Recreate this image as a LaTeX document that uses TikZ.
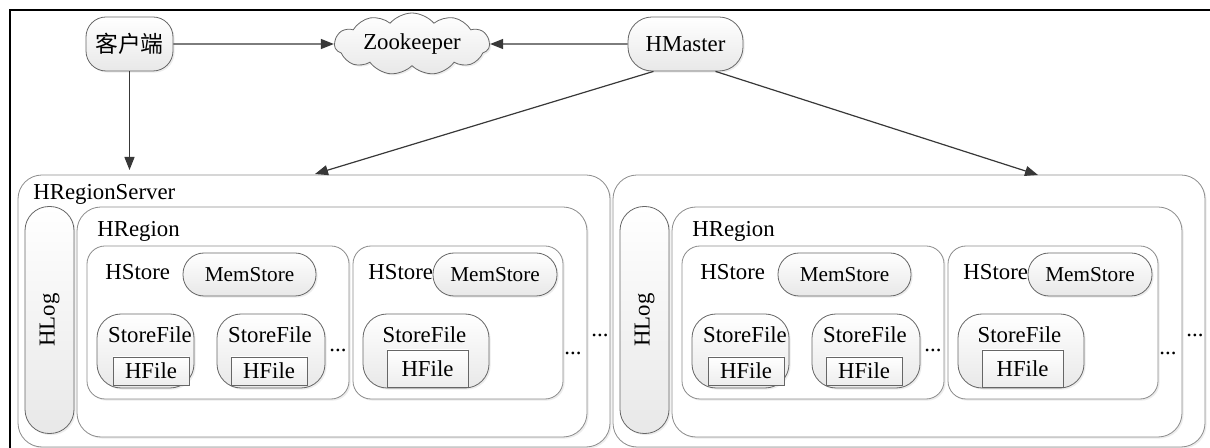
\documentclass[tikz,border=0pt]{standalone}
\usepackage{fontspec}
\setmainfont{Liberation Serif}
\newfontfamily\cjk{Noto Sans CJK SC}
\usetikzlibrary{shapes.symbols,shadows,arrows.meta}

\tikzset{
  softshadow/.style={drop shadow={opacity=0.15, shadow xshift=0.8pt, shadow yshift=-0.8pt}},
  frame/.style={draw=black!45, fill=white, softshadow},
  pill/.style={draw=black!60, top color=white, bottom color=black!9, inner sep=0pt, softshadow},
  filebox/.style={draw=black!60, top color=white, bottom color=black!7, inner sep=0pt},
  lbl/.style={inner sep=0pt, anchor=base west},
  dots/.style={inner sep=0pt, anchor=base},
  link/.style={draw=black!78, line width=0.6pt, -{Triangle[length=6.5pt,width=5pt]}},
}

\begin{document}
\begin{tikzpicture}[x=0.5pt, y=-0.5pt, font=\fontsize{11.4pt}{13.7pt}\selectfont]
  \useasboundingbox (0,0) rectangle (1210,448);
  % frame
  \draw[black, line width=1pt] (10,448) -- (10,10) -- (1210,10);

  % top row
  \node[pill, rounded corners=10pt, minimum width=43.5pt, minimum height=27pt] (client) at (129.5,44) {\cjk 客户端};
  \node[cloud, cloud puffs=11, cloud puff arc=100, cloud ignores aspect, draw=black!60, top color=white, bottom color=black!9,
        inner sep=0pt, minimum width=77.5pt, minimum height=31pt, softshadow] (zk) at (412,44) {Zookeeper};
  \node[pill, rounded corners=12pt, minimum width=57.5pt, minimum height=27pt] (master) at (685.5,44) {HMaster};

  % region servers
  \foreach \s/\n in {0/L,595/R}{
  \begin{scope}[shift={(\s,0)}]
    \draw[frame, rounded corners=12pt] (18,175) rectangle (610,447);
    \node[pill, rounded corners=12pt, rotate=90, minimum width=113.5pt, minimum height=24.5pt] (hlog\n) at (49.5,320) {HLog};
    \draw[frame, rounded corners=12pt] (77,207) rectangle (587,437);
    \node[lbl] (hreg\n) at (97,237) {HRegion};
    % first store
    \draw[frame, rounded corners=9pt] (87,246) rectangle (349,399);
    \node[lbl] (hsa\n) at (105,280) {HStore};
    \node[pill, rounded corners=10.5pt, minimum width=66.5pt, minimum height=21.5pt, font=\fontsize{10.6pt}{12pt}\selectfont] (msa\n) at (249.5,274.5) {MemStore};
    \node[pill, rounded corners=12pt, minimum width=48.5pt, minimum height=37pt] (sfa\n) at (145.5,351) {};
    \node[dots] (sfta\n) at (150,343) {StoreFile};
    \node[filebox, minimum width=38pt, minimum height=14pt] (hfa\n) at (151,371) {HFile};
    \node[pill, rounded corners=12pt, minimum width=54pt, minimum height=37pt] (sfb\n) at (271,351) {};
    \node[dots] (sftb\n) at (270,343) {StoreFile};
    \node[filebox, minimum width=38pt, minimum height=14pt] (hfb\n) at (269,371) {HFile};
    \node[dots] (dta\n) at (338,352) {...};
    % second store
    \draw[frame, rounded corners=9pt] (353,246) rectangle (563,399);
    \node[lbl] (hsb\n) at (368,280) {HStore};
    \node[pill, rounded corners=10.5pt, minimum width=62pt, minimum height=21.5pt, font=\fontsize{10.6pt}{12pt}\selectfont] (msb\n) at (495,274.5) {MemStore};
    \node[pill, rounded corners=12pt, minimum width=63pt, minimum height=37pt] (sfc\n) at (426,351) {};
    \node[dots] (sftc\n) at (424.5,343) {StoreFile};
    \node[filebox, minimum width=40.5pt, minimum height=18.5pt] (hfc\n) at (427.5,368.5) {HFile};
    \node[dots] (dtb\n) at (573,355) {...};
    \node[dots] (dtc\n) at (600,337) {...};
  \end{scope}
  }
  \node[lbl] (hrs) at (33,200) {HRegionServer};

  % connectors
  \coordinate (cin) at (129.5,170);
  \coordinate (mL) at (315,174);
  \coordinate (mR) at (1038,175);
  \draw[link] (client) -- (zk);
  \draw[link] (master) -- (zk);
  \draw[link] (client) -- (cin);
  \draw[link] ([xshift=-16pt]master.south) -- (mL);
  \draw[link] ([xshift=15pt]master.south) -- (mR);
\end{tikzpicture}
\end{document}
